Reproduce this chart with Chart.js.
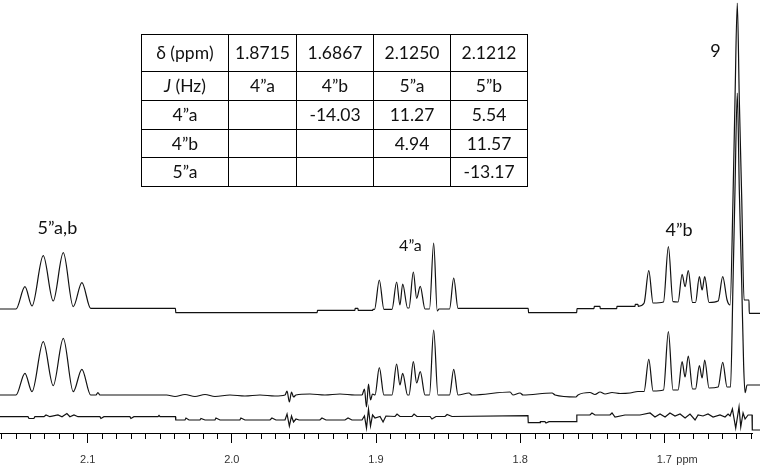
<!DOCTYPE html>
<html><head><meta charset="utf-8">
<script src="https://cdn.jsdelivr.net/npm/chart.js@4.4.1/dist/chart.umd.min.js"></script>
<style>
html,body{margin:0;padding:0;background:#fff;overflow:hidden;}
#wrap{position:relative;width:760px;height:466px;}
canvas{position:absolute;left:0;top:0;}
#jt{position:absolute;left:141px;top:34px;width:386px;border-collapse:collapse;table-layout:fixed;font-family:Lato,"Open Sans",sans-serif;font-size:17.5px;color:#111;}
#jt td{border:1px solid #000;padding:0;text-align:center;vertical-align:middle;line-height:18px;}
</style></head>
<body><div id="wrap"><canvas id="c" width="760" height="466"></canvas><table id="jt"></table></div>
<script>
// ---------- data ----------
// top trace (simulated spectrum): chemical shift (ppm) and intensity
const topPpm = [2.1608,2.1497,2.1435,2.1386,2.1308,2.1239,2.1169,2.1100,2.1040,2.0979,2.0391,2.0389,1.9408,1.9406,1.9146,1.9145,1.9125,1.9124,1.9022,1.9021,1.9010,1.8977,1.8945,1.8889,1.8857,1.8834,1.8815,1.8781,1.8771,1.8741,1.8718,1.8693,1.8660,1.8629,1.8600,1.8575,1.8563,1.8490,1.8461,1.8431,1.7944,1.7942,1.7608,1.7606,1.7488,1.7486,1.7446,1.7445,1.7330,1.7329,1.7203,1.7202,1.7183,1.7181,1.7141,1.7108,1.7078,1.7006,1.6972,1.6940,1.6905,1.6877,1.6856,1.6834,1.6804,1.6784,1.6757,1.6738,1.6720,1.6690,1.6627,1.6595,1.6565,1.6544,1.6524,1.6510,1.6494,1.6480,1.6463,1.6447,1.6413,1.6411,1.6336];
const topInt = [0,0,22.3,3,53.3,8,56.3,2.3,26.3,0.7,0.7,-3.7,-3.7,-1.3,-1.3,0.7,0.7,-1.3,-1.3,-0.3,-0.3,29,-0.3,-0.3,27,4,25,1,1,37,10.7,22.6,0,0,66,-2,0,0,31,0.7,0.7,-3.7,-3.7,0.3,0.3,2.7,2.7,0.3,0.3,2.7,2.7,4.7,4.7,2.7,5.7,38.3,6,7,62.3,7.3,7,34.7,22.3,38.3,6.5,6.5,32.3,19,32.3,6.5,8,32.3,9,4,109,209,306,209,109,9,9,-4.3,-4.3];

// middle trace (experimental spectrum)
const expPpm = [2.1608,2.1497,2.1435,2.1386,2.1308,2.1239,2.1169,2.1100,2.1040,2.0979,2.0942,2.0929,2.0915,2.0452,2.0394,2.0325,2.0256,2.0186,2.0117,2.0013,1.9909,1.9805,1.9701,1.9631,1.9617,1.9601,1.9586,1.9572,1.9555,1.9458,1.9354,1.9250,1.9146,1.9097,1.9080,1.9066,1.9052,1.9038,1.9024,1.9007,1.8977,1.8945,1.8889,1.8857,1.8834,1.8815,1.8781,1.8771,1.8741,1.8718,1.8693,1.8660,1.8629,1.8600,1.8570,1.8490,1.8461,1.8431,1.8355,1.8334,1.8070,1.8050,1.8001,1.7980,1.7779,1.7758,1.7613,1.7599,1.7516,1.7481,1.7446,1.7411,1.7363,1.7307,1.7238,1.7183,1.7141,1.7108,1.7078,1.7006,1.6972,1.6940,1.6905,1.6877,1.6856,1.6834,1.6804,1.6784,1.6757,1.6738,1.6720,1.6690,1.6627,1.6595,1.6565,1.6541,1.6524,1.6510,1.6494,1.6480,1.6463,1.6450,1.6440,1.6426,1.6336];
const expInt = [0,0,21.7,3.3,53.3,9.3,56.7,3.3,25.7,0,0,2.5,0,0,-1.5,0.5,-1.5,0.5,-1.5,0,-1,0,-1,0,4,-7,3,-2,0,1,0,1,0,0,6,-12,11,-5,1,0,27.3,0,0,31,10,21.7,0,0,33.3,12,23.3,0,0,65,0,0,25.7,0,2,0,3,0,2,0,2,0,-2,0,2.5,0.5,3,1,2.5,1.5,2,3.5,3.5,35.7,4,5,63.3,5,5,33.3,18,39,6,6,29.3,17,35,7,8,32.7,8,8,110,205,302,205,110,30,2.3,10,10];

// bottom trace (difference)
const diffPpm = [2.1608,2.1414,2.1407,2.1373,2.1366,2.1303,2.1289,2.1262,2.1206,2.1178,2.1144,2.1123,2.1095,2.1067,2.0915,2.0908,2.0887,2.0707,2.0700,2.0679,2.0512,2.0505,2.0498,2.0391,2.0389,2.0325,2.0318,2.0297,2.0221,2.0214,2.0186,2.0117,2.0110,2.0082,1.9944,1.9937,1.9909,1.9735,1.9722,1.9694,1.9631,1.9617,1.9601,1.9586,1.9572,1.9555,1.9534,1.9389,1.9375,1.9347,1.9215,1.9194,1.9167,1.9097,1.9080,1.9066,1.9052,1.9038,1.9024,1.9007,1.8972,1.8951,1.8931,1.8868,1.8854,1.8834,1.8750,1.8736,1.8716,1.8625,1.8612,1.8584,1.8521,1.8507,1.8473,1.7946,1.7944,1.7862,1.7860,1.7828,1.7821,1.7800,1.7609,1.7607,1.7516,1.7502,1.7481,1.7377,1.7363,1.7342,1.7273,1.7169,1.7099,1.7065,1.7030,1.6995,1.6961,1.6926,1.6891,1.6856,1.6822,1.6787,1.6766,1.6732,1.6697,1.6662,1.6614,1.6579,1.6558,1.6544,1.6528,1.6505,1.6482,1.6470,1.6454,1.6440,1.6419,1.6392,1.6390,1.6336];
const diffInt = [0.3,0.3,-1.5,-1.5,0.3,0.3,2,0.3,2,0.3,3.5,0.3,2,0.3,0.3,-1.5,0.3,0.3,-1.5,0.3,0.3,1.5,0.3,0.3,-3,-3,-1,-3,-3,-1.5,-3,-3,-1,-3,-3,-1,-3,-3,-1,-3,-3,3,-9,1,-5,-2,-3,-3,-1,-3,-3,-1,-3,-3,1,-11,8,-9,2,-1,0.5,-5,1,0.5,3,0.5,0.5,3,0.5,0.5,-2,0.5,0.5,2.5,0.5,1.3,-5.7,-5.7,-4.7,-4.7,-6,-4.7,-4.7,2,2,4,2,2,4,0,2,2,4,0,3,0,4,1,3,-1,3,-3,2,1,3,0,2,0,3,1,8,-11,10,-10,4,-2,2,2,-13,-13];

// axis tick values (ppm)
const majorTicks = [2.1, 2.0, 1.9, 1.8, 1.7];
const minorTickHundredths = [];
for (let k = 216; k >= 164; k--) if (k % 10 !== 0) minorTickHundredths.push(k);

// peak labels: text, ppm, intensity on the simulated trace
const peakLabelText = ['5”a,b', '4”a', '4”b', '9'];
const peakLabelPpm = [2.1210, 1.8761, 1.6898, 1.6645];
const peakLabelInt = [75, 58, 73, 252];

// coupling table
const tableHead = ['δ (ppm)', '1.8715', '1.6867', '2.1250', '2.1212'];
const tableSub  = ['J (Hz)', '4”a', '4”b', '5”a', '5”b'];
const tableRowA = ['4”a', '', '-14.03', '11.27', '5.54'];
const tableRowB = ['4”b', '', '', '4.94', '11.57'];
const tableRowC = ['5”a', '', '', '', '-13.17'];

// ---------- layout ----------
const OFF_TOP = 124, OFF_EXP = 38, OFF_DIFF = 16;
const LABEL_FONTS = ['18px Lato', '16px Lato', '18px Lato', '18px Lato'];
const ROW_H = [35.7, 28, 28, 27.7, 28];
const COL_W = [87, 68, 77, 77, 77];

// ---------- table ----------
(function buildTable(){
  const t = document.getElementById('jt');
  const cg = document.createElement('colgroup');
  COL_W.forEach(w => { const c = document.createElement('col'); c.style.width = w + 'px'; cg.appendChild(c); });
  t.appendChild(cg);
  const body = document.createElement('tbody');
  [tableHead, tableSub, tableRowA, tableRowB, tableRowC].forEach((row, ri) => {
    const tr = document.createElement('tr');
    row.forEach((txt, ci) => {
      const td = document.createElement('td');
      td.style.height = ROW_H[ri] + 'px';
      if (ri === 1 && ci === 0) {
        const i = document.createElement('i'); i.textContent = 'J';
        td.appendChild(i); td.appendChild(document.createTextNode(txt.slice(1)));
      } else td.textContent = txt;
      tr.appendChild(td);
    });
    body.appendChild(tr);
  });
  t.appendChild(body);
})();

// ---------- chart ----------
function series(ppm, ints, off){ return ppm.map((p, i) => ({x: p, y: ints[i] + off})); }

const extras = {
  id: 'extras',
  afterDraw(chart){
    const ctx = chart.ctx, xs = chart.scales.x, ys = chart.scales.y;
    ctx.save();
    ctx.strokeStyle = '#000'; ctx.lineWidth = 1;
    ctx.beginPath();
    minorTickHundredths.forEach(k => {
      const px = Math.round(xs.getPixelForValue(k / 100)) + 0.5;
      ctx.moveTo(px, xs.top); ctx.lineTo(px, xs.top + 6);
    });
    ctx.stroke();
    ctx.fillStyle = '#333'; ctx.font = '11px "Liberation Sans", Arial, sans-serif';
    ctx.textBaseline = 'middle'; ctx.textAlign = 'left';
    ctx.fillText('ppm', xs.getPixelForValue(1.7) + 12, xs.top + 27);
    ctx.fillStyle = '#111'; ctx.textAlign = 'center'; ctx.textBaseline = 'alphabetic';
    peakLabelText.forEach((t, i) => {
      ctx.font = LABEL_FONTS[i];
      ctx.fillText(t, xs.getPixelForValue(peakLabelPpm[i]), ys.getPixelForValue(peakLabelInt[i] + OFF_TOP));
    });
    ctx.restore();
  }
};

const lineStyle = {borderColor: '#111', borderWidth: 1.2, pointRadius: 0, fill: false,
  clip: {left: 0, top: 10, right: 12, bottom: 0}};

new Chart(document.getElementById('c'), {
  type: 'line',
  data: {
    datasets: [
      Object.assign({label: 'simulated', data: series(topPpm, topInt, OFF_TOP), cubicInterpolationMode: 'monotone'}, lineStyle),
      Object.assign({label: 'experimental', data: series(expPpm, expInt, OFF_EXP), cubicInterpolationMode: 'monotone'}, lineStyle),
      Object.assign({label: 'difference', data: series(diffPpm, diffInt, OFF_DIFF), tension: 0}, lineStyle)
    ]
  },
  options: {
    responsive: false, animation: false, devicePixelRatio: 1,
    layout: {padding: {left: 0, right: 8, top: 0, bottom: 0}},
    plugins: {legend: {display: false}, tooltip: {enabled: false}},
    events: [],
    scales: {
      x: {
        type: 'linear', reverse: true, min: 1.6392, max: 2.1608,
        afterBuildTicks: s => { s.ticks = majorTicks.map(v => ({value: v})); },
        afterFit: s => { s.height = 33; },
        grid: {display: true, drawOnChartArea: false, drawTicks: true, tickLength: 10, color: '#000', lineWidth: 1},
        border: {display: true, color: '#000', width: 1},
        ticks: {autoSkip: false, maxRotation: 0, padding: 10.4, color: '#333',
          font: {family: '"Liberation Sans", Arial, sans-serif', size: 11},
          callback: v => v.toFixed(1)}
      },
      y: {display: false, min: 0, max: 433}
    }
  },
  plugins: [extras]
});
</script></body></html>
